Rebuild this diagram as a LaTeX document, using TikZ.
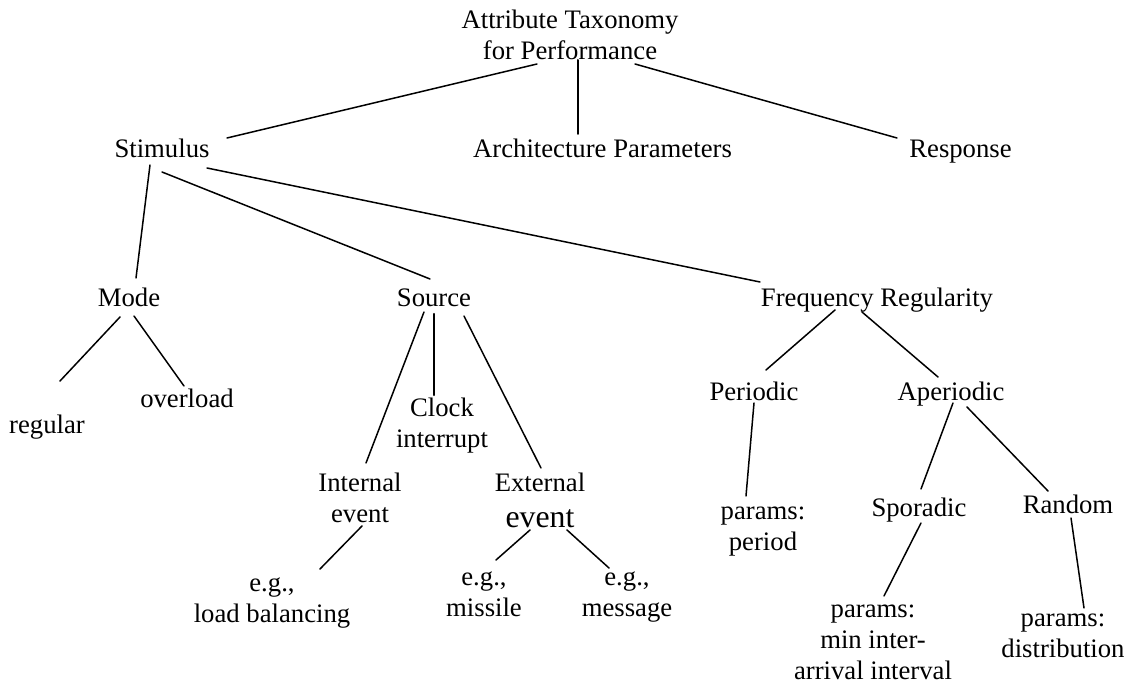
\documentclass[tikz,border=0pt]{standalone}
\usepackage{fontspec}
\setmainfont{Liberation Serif}
\begin{document}
\begin{tikzpicture}[x=0.5pt,y=-0.5pt,
  lbl/.style={inner sep=0pt, align=center, font=\fontsize{13.35}{15.5}\selectfont},
  conn/.style={line width=0.75pt, line cap=round}]
\useasboundingbox (0,0) rectangle (1131,689);
% nodes
\node[lbl] (T) at (570,37.8) {\strut Attribute Taxonomy\\\strut for Performance};
\node[lbl] (S) at (162,151.8) {\strut Stimulus};
\node[lbl] (A) at (602.5,151.8) {\strut Architecture Parameters};
\node[lbl] (R) at (960.5,151.8) {\strut Response};
\node[lbl] (M) at (129,300.8) {\strut Mode};
\node[lbl] (So) at (434,300.8) {\strut Source};
\node[lbl] (F) at (877,300.8) {\strut Frequency Regularity};
\node[lbl] (reg) at (47,427.8) {\strut regular};
\node[lbl] (ovl) at (187,401.8) {\strut overload};
\node[lbl] (clk) at (442,426.3) {\strut Clock\\\strut interrupt};
\node[lbl] (int) at (360,500.8) {\strut Internal\\\strut event};
\node[lbl] (ext) at (540,504) {\strut External\\{\fontsize{15.9}{17.5}\selectfont\strut event}};
\node[lbl] (lb) at (272,600.8) {\strut e.g.,\\\strut load balancing};
\node[lbl] (mis) at (484,595.3) {\strut e.g.,\\\strut missile};
\node[lbl] (msg) at (627,595.3) {\strut e.g.,\\\strut message};
\node[lbl] (per) at (754,394.8) {\strut Periodic};
\node[lbl] (aper) at (951,394.8) {\strut Aperiodic};
\node[lbl] (pp) at (763,528.8) {\strut params:\\\strut period};
\node[lbl] (spo) at (919,510.8) {\strut Sporadic};
\node[lbl] (rnd) at (1068,507.8) {\strut Random};
\node[lbl] (pm) at (873,642.8) {\strut params:\\\strut min inter-\\\strut arrival interval};
\node[lbl] (pd) at (1063,635.8) {\strut params:\\\strut distribution};
% connectors
\draw[conn] ([shift={(-33,26.2)}]T.center) -- ([shift={(65,-13.8)}]S.center);
\draw[conn,line width=1pt] ([shift={(8,22.2)}]T.center) -- ([shift={(-24.5,-17.8)}]A.center);
\draw[conn] ([shift={(65,26.2)}]T.center) -- ([shift={(-63.5,-13.8)}]R.center);
\draw[conn] ([shift={(-12,13.2)}]S.center) -- ([shift={(7,-22.8)}]M.center);
\draw[conn] ([shift={(0,20.2)}]S.center) -- ([shift={(-4,-21.8)}]So.center);
\draw[conn] ([shift={(45,16.2)}]S.center) -- ([shift={(-117,-18.8)}]F.center);
\draw[conn] ([shift={(-9,16.2)}]M.center) -- ([shift={(13,-46.8)}]reg.center);
\draw[conn] ([shift={(5,15.2)}]M.center) -- ([shift={(-3,-15.8)}]ovl.center);
\draw[conn] ([shift={(-10,11.2)}]So.center) -- ([shift={(6,-37.8)}]int.center);
\draw[conn,line width=1.2pt] ([shift={(0,13.2)}]So.center) -- ([shift={(-8,-31.3)}]clk.center);
\draw[conn] ([shift={(30,15.2)}]So.center) -- ([shift={(1,-36)}]ext.center);
\draw[conn] ([shift={(2,25.2)}]int.center) -- ([shift={(48,-31.8)}]lb.center);
\draw[conn] ([shift={(-10,26)}]ext.center) -- ([shift={(12,-35.3)}]mis.center);
\draw[conn] ([shift={(27,26)}]ext.center) -- ([shift={(-18,-27.3)}]msg.center);
\draw[conn] ([shift={(-42,9.2)}]F.center) -- ([shift={(12,-24.8)}]per.center);
\draw[conn] ([shift={(-15,11.2)}]F.center) -- ([shift={(-13,-17.8)}]aper.center);
\draw[conn] ([shift={(0,8.2)}]per.center) -- ([shift={(-17,-32.8)}]pp.center);
\draw[conn] ([shift={(2,8.2)}]aper.center) -- ([shift={(2,-21.8)}]spo.center);
\draw[conn] ([shift={(16,12.2)}]aper.center) -- ([shift={(-20,-16.8)}]rnd.center);
\draw[conn] ([shift={(2,12.2)}]spo.center) -- ([shift={(11,-46.8)}]pm.center);
\draw[conn] ([shift={(3,10.2)}]rnd.center) -- ([shift={(21,-27.8)}]pd.center);
\end{tikzpicture}
\end{document}
